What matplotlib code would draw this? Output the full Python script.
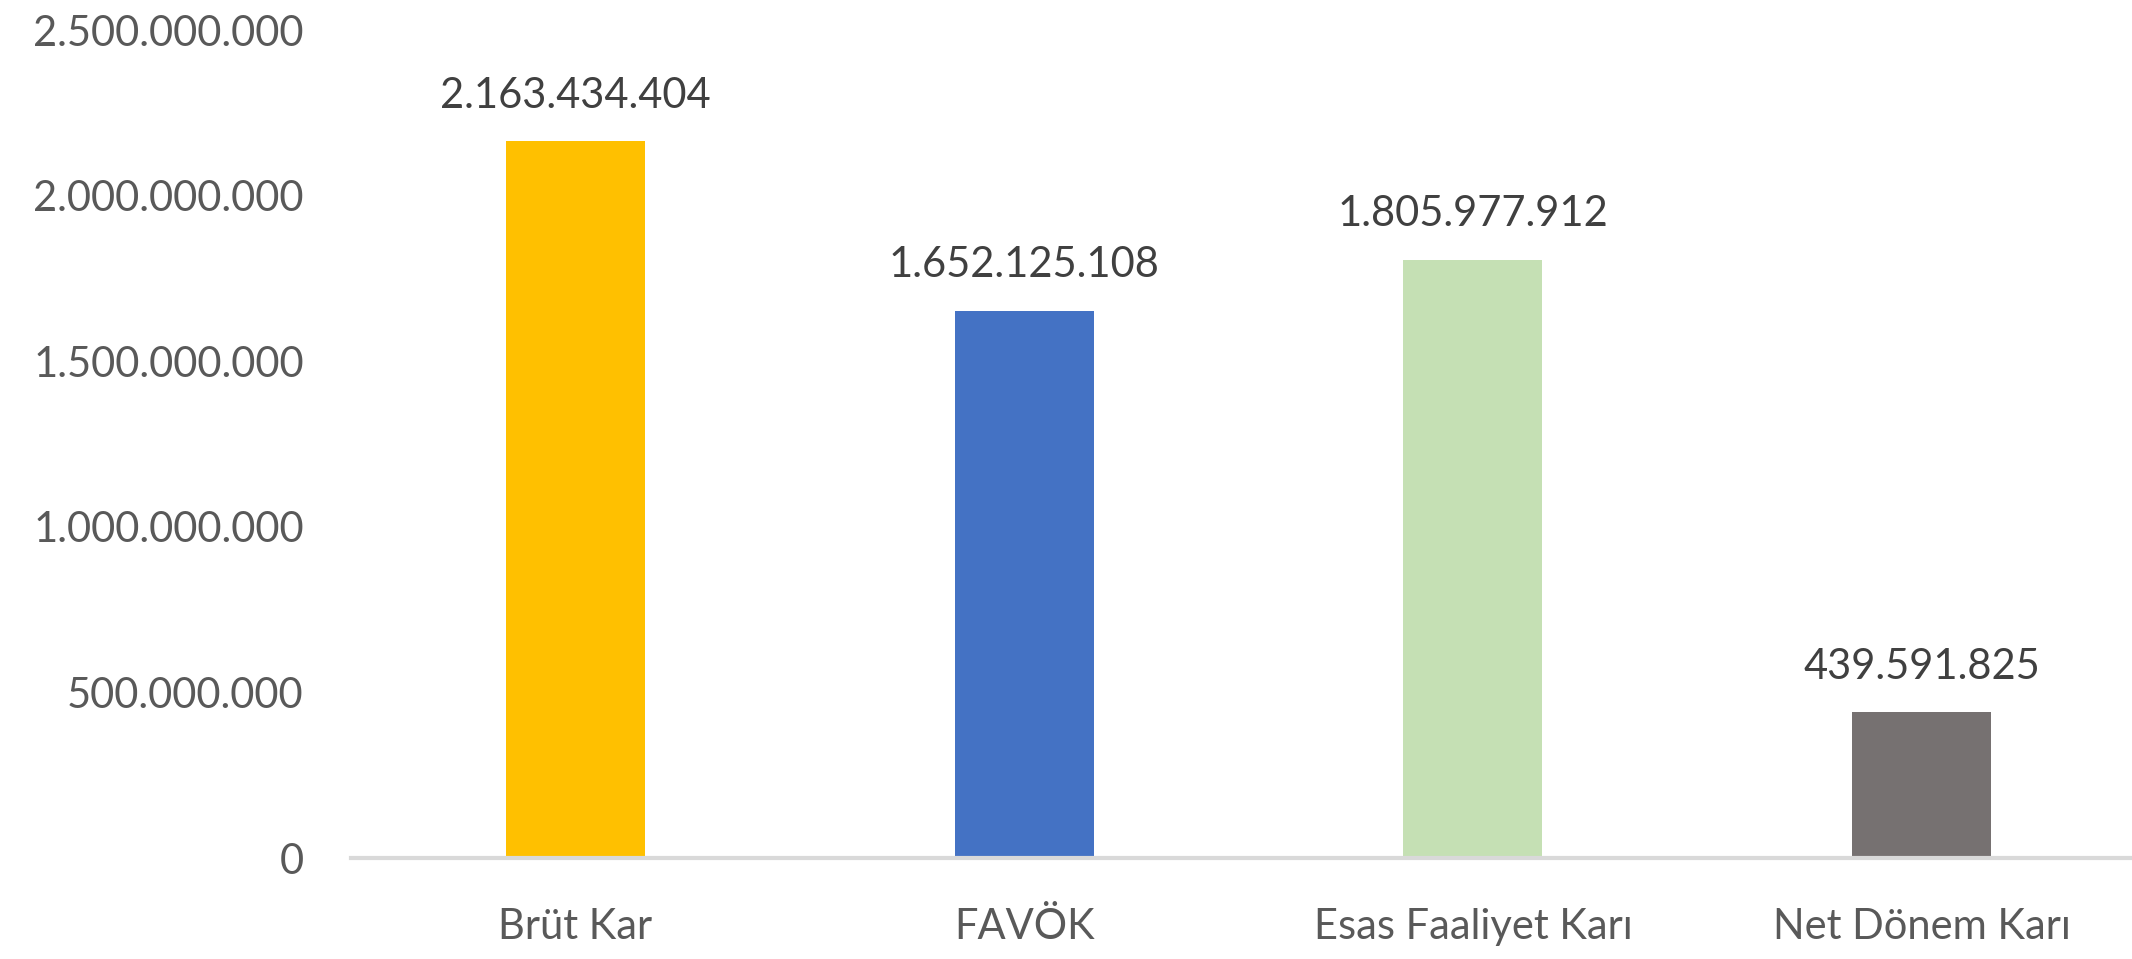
import matplotlib.pyplot as plt
from matplotlib.ticker import FuncFormatter

# data
categories = ["Brüt Kar", "FAVÖK", "Esas Faaliyet Karı", "Net Dönem Karı"]
values = [2163434404, 1652125108, 1805977912, 439591825]
colors = ["#FFC000", "#4472C4", "#C5E0B4", "#767171"]
yticks = [0, 500000000, 1000000000, 1500000000, 2000000000, 2500000000]

plt.rcParams['font.family'] = ['Lato', 'DejaVu Sans']


def dotted(v, pos=None):
    # turkish style thousands separator
    return f"{int(v):,}".replace(",", ".")


fig = plt.figure(figsize=(21.32, 9.59), dpi=100)
ax = fig.add_axes([0.1646, 0.1053, 0.842, 0.8634])

x = range(len(categories))
ax.bar(x, values, width=0.31, color=colors, zorder=2)

for xi, v in zip(x, values):
    ax.annotate(dotted(v), (xi, v), xytext=(0, 19), textcoords="offset points",
                ha="center", va="bottom", fontsize=30, color="#404040")

ax.set_xlim(-0.5, 3.5)
ax.set_ylim(0, 2500000000)
ax.set_yticks(yticks)
ax.yaxis.set_major_formatter(FuncFormatter(dotted))
ax.set_xticks(list(x))
ax.set_xticklabels(categories)

for s in ["top", "right", "left"]:
    ax.spines[s].set_visible(False)
ax.spines["bottom"].set_color("#D9D9D9")
ax.spines["bottom"].set_linewidth(3)
ax.spines["bottom"].set_zorder(3)

ax.tick_params(axis="y", length=0, pad=34, labelsize=30, labelcolor="#595959")
ax.tick_params(axis="x", length=0, pad=36, labelsize=30, labelcolor="#595959")

fig.savefig("out.png", dpi=100)
